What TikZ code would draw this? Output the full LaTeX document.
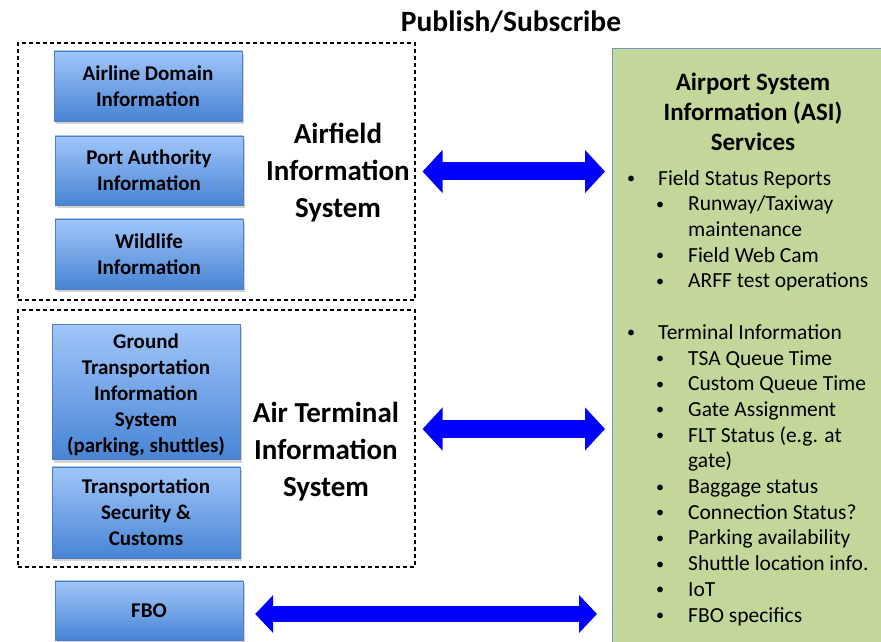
\documentclass[tikz,border=0pt]{standalone}
\usepackage{fontspec}
\setmainfont{Carlito}
\usetikzlibrary{arrows.meta, shadows}
\definecolor{boxtop}{RGB}{160,198,250}
\definecolor{boxbottom}{RGB}{72,132,212}
\definecolor{boxline}{RGB}{80,126,192}
\definecolor{asigreen}{RGB}{196,215,155}
\definecolor{asiline}{RGB}{110,150,205}
\definecolor{arrowblue}{RGB}{0,0,255}
\tikzstyle{group} = [rectangle, draw=black, dash pattern=on 4pt off 3pt, line width=1.1pt, minimum width=397pt, minimum height=257pt]
\tikzstyle{infobox} = [rectangle, minimum width=188pt, text centered, align=center, draw=boxline, top color=boxtop, bottom color=boxbottom, font=\bfseries\fontsize{21}{26}\selectfont, drop shadow={opacity=0.35, shadow xshift=2pt, shadow yshift=-3pt}]
\tikzstyle{system} = [align=center, font=\bfseries\fontsize{29}{37}\selectfont]
\tikzstyle{biarrow} = [line width=18pt, draw=arrowblue, {Triangle[length=20pt,width=42pt]}-{Triangle[length=20pt,width=42pt]}]
\newcommand{\dotmark}{\raisebox{1.5pt}{\scalebox{0.75}{•}}}
\newcommand{\itemA}{\makebox[32pt][l]{\hspace{1pt}\dotmark}}
\newcommand{\itemB}{\hspace{29pt}\makebox[33pt][l]{\hspace{1pt}\dotmark}}

\begin{document}
\begin{tikzpicture}[x=1pt, y=1pt]
        \useasboundingbox (0,0) rectangle (881,642);
        \clip (0,0) rectangle (881,642);
        % Nodes
        \node (title) [font=\bfseries\fontsize{29.5}{34}\selectfont] at (511,620) {Publish/Subscribe};
        \node (afis) [group] at (216.5,470.5) {};
        \node (airline) [infobox, minimum height=70pt] at (148,556) {Airline Domain\\Information};
        \node (port) [infobox, minimum height=69pt] at (149,471.5) {Port Authority\\Information};
        \node (wildlife) [infobox, minimum height=70pt] at (149,388) {Wildlife\\Information};
        \node (afislabel) [system] at (338,469) {Airfield\\Information\\System};
        \node (atis) [group] at (216.5,203.5) {};
        \node (ground) [infobox, minimum height=132pt] at (146,250) {\rule{0pt}{21pt}Ground\\Transportation\\Information\\System\\(parking, shuttles)};
        \node (tsc) [infobox, minimum height=91pt] at (146,129.5) {Transportation\\Security \&\\Customs};
        \node (atislabel) [system] at (326,190) {Air Terminal\\Information\\System};
        \node (fbo) [infobox, minimum height=59pt] at (149,31.5) {FBO};
        \node (asi) [rectangle, draw=asiline, fill=asigreen, line width=1pt, anchor=north west, minimum width=300pt, minimum height=620pt] at (612,594) {};
        \node (asititle) [align=center, font=\bfseries\fontsize{25}{30}\selectfont] at (753,530) {Airport System\\Information (ASI)\\Services};
        \node (asilist) [align=left, anchor=north west, inner sep=0pt, font=\fontsize{21.5}{25.7}\selectfont] at (626,472) {%
          \itemA Field Status Reports\\
          \itemB Runway/Taxiway\\
          \hspace{62pt}maintenance\\
          \itemB Field Web Cam\\
          \itemB ARFF test operations\\[25.7pt]
          \itemA Terminal Information\\
          \itemB TSA Queue Time\\
          \itemB Custom Queue Time\\
          \itemB Gate Assignment\\
          \itemB FLT Status (e.g. at\\
          \hspace{62pt}gate)\\
          \itemB Baggage status\\
          \itemB Connection Status?\\
          \itemB Parking availability\\
          \itemB Shuttle location info.\\
          \itemB IoT\\
          \itemB FBO specifics};

        % Arrows
        \draw [biarrow] ([xshift=7pt]afis.east) -- ([xshift=-7pt]asi.west |- afis.east);
        \draw [biarrow] ([xshift=7pt,yshift=9.5pt]atis.east) -- ([xshift=-7pt,yshift=9.5pt]asi.west |- atis.east);
        \draw [biarrow, line width=16pt, {Triangle[length=18pt,width=37pt]}-{Triangle[length=18pt,width=37pt]}] ([xshift=12pt,yshift=-3.5pt]fbo.east) -- ([xshift=-15pt,yshift=-3.5pt]asi.west |- fbo.east);
    \end{tikzpicture}
\end{document}
